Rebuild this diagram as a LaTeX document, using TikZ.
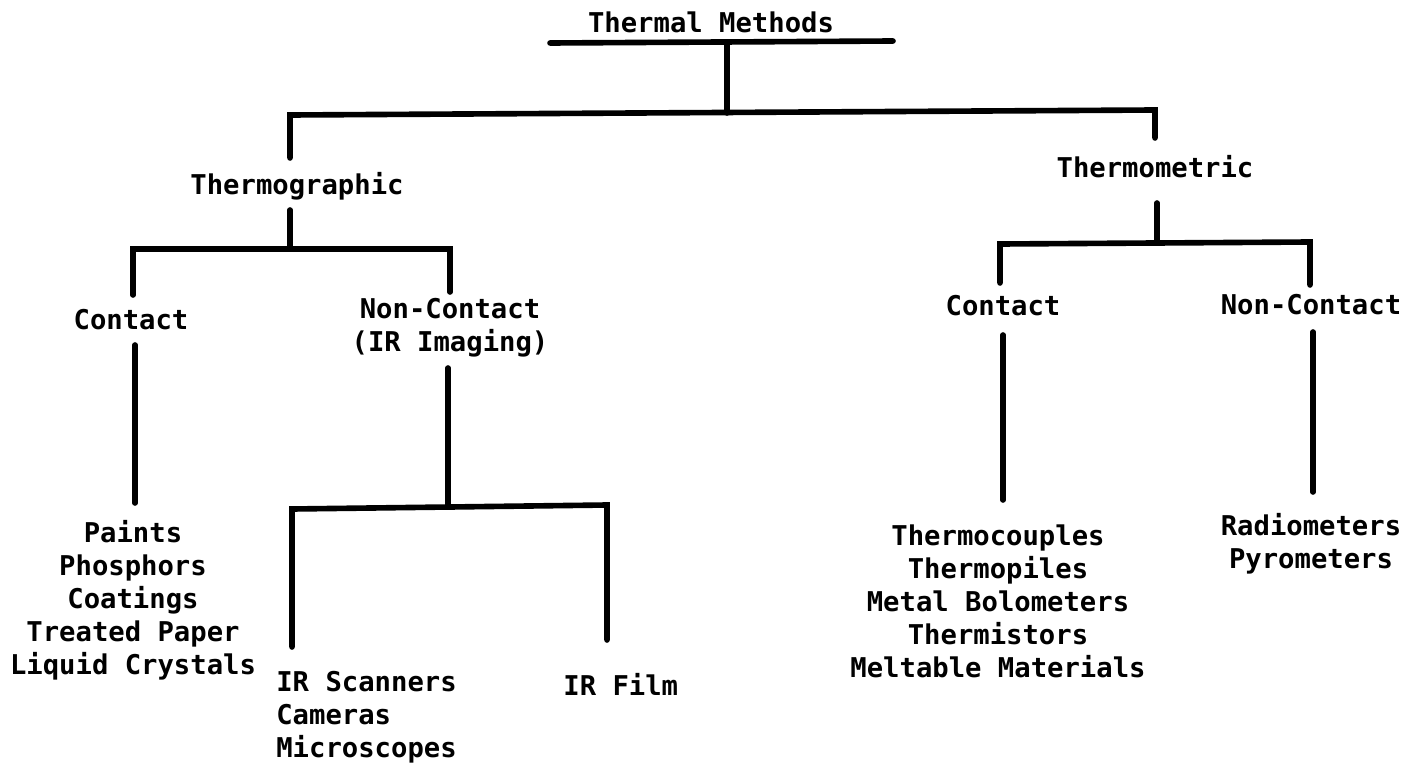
\documentclass[tikz,border=0pt]{standalone}
\usepackage{fontspec}
\setmonofont{DejaVu Sans Mono}
\usepackage{tikz}
\usetikzlibrary{positioning}
\tikzset{
  lbl/.style={font=\ttfamily\bfseries\fontsize{15.5}{18.8}\selectfont,
    inner sep=0pt, align=center},
  lbllist/.style={lbl, align=left},
  bar/.style={line width=3.2pt, line cap=round, color=black}
}

\begin{document}
\begin{tikzpicture}[x=0.02cm, y=-0.02cm]
  \useasboundingbox (0,0) rectangle (1416,767);

  % Root
  \node[lbl] (root) at (711,22) {Thermal Methods};
  \coordinate (rootL) at (550,43);
  \coordinate (rootR) at (893,41);
  \coordinate (rootJ) at (727,42);
  \coordinate (mainJ) at (727,113);
  \coordinate (mainL) at (290,115);
  \coordinate (mainR) at (1155,110);
  \coordinate (graphEnd) at (290,158);
  \coordinate (metricEnd) at (1155,138);

  \draw[bar] (rootL) -- (rootR);
  \draw[bar] (rootJ) -- (mainJ);
  \draw[bar] (graphEnd) -- (mainL) -- (mainR) -- (metricEnd);

  % Thermographic
  \node[lbl] (graph) at (297,186) {Thermographic};
  \coordinate (graphJ) at (290,210);
  \coordinate (graphB) at (290,249);
  \coordinate (graphL) at (133,249);
  \coordinate (graphR) at (450,249);
  \coordinate (gcEnd) at (133,295);
  \coordinate (gnEnd) at (450,292);

  \draw[bar] (graphJ) -- (graphB);
  \draw[bar] (gcEnd) -- (graphL) -- (graphR) -- (gnEnd);

  \node[lbl] (gcont) at (131,320) {Contact};
  \node[lbl] (gnon) at (450,328) {Non-Contact\\(IR Imaging)};

  % Thermographic contact
  \coordinate (gcTop) at (135,345);
  \coordinate (gcBot) at (135,503);
  \draw[bar] (gcTop) -- (gcBot);
  \node[lbl] (paints) at (133,600) {Paints\\Phosphors\\Coatings\\Treated Paper\\Liquid Crystals};

  % Thermographic non-contact
  \coordinate (gnTop) at (448,368);
  \coordinate (gnB) at (448,507);
  \coordinate (gnL) at (292,509);
  \coordinate (gnR) at (607,505);
  \coordinate (scanEnd) at (292,647);
  \coordinate (filmEnd) at (607,640);
  \draw[bar] (gnTop) -- (gnB);
  \draw[bar] (scanEnd) -- (gnL) -- (gnR) -- (filmEnd);

  \node[lbllist, anchor=west] (scan) at (276,717) {IR Scanners\\Cameras\\Microscopes};
  \node[lbl, anchor=west] (film) at (563,684) {IR Film};

  % Thermometric
  \node[lbl] (metric) at (1155,167) {Thermometric};
  \coordinate (metricJ) at (1157,203);
  \coordinate (metricB) at (1157,243);
  \coordinate (metricL) at (1000,244);
  \coordinate (metricR) at (1310,242);
  \coordinate (mcEnd) at (1000,283);
  \coordinate (mnEnd) at (1310,285);

  \draw[bar] (metricJ) -- (metricB);
  \draw[bar] (mcEnd) -- (metricL) -- (metricR) -- (mnEnd);

  \node[lbl] (mcont) at (1003,306) {Contact};
  \node[lbl] (mnon) at (1311,305) {Non-Contact};

  \coordinate (mcTop) at (1003,335);
  \coordinate (mcBot) at (1003,500);
  \coordinate (mnTop) at (1313,332);
  \coordinate (mnBot) at (1313,492);
  \draw[bar] (mcTop) -- (mcBot);
  \draw[bar] (mnTop) -- (mnBot);

  \node[lbl] (couples) at (998,601) {Thermocouples\\Thermopiles\\Metal Bolometers\\Thermistors\\Meltable Materials};
  \node[lbl] (radio) at (1311,544) {Radiometers\\Pyrometers};
\end{tikzpicture}
\end{document}
